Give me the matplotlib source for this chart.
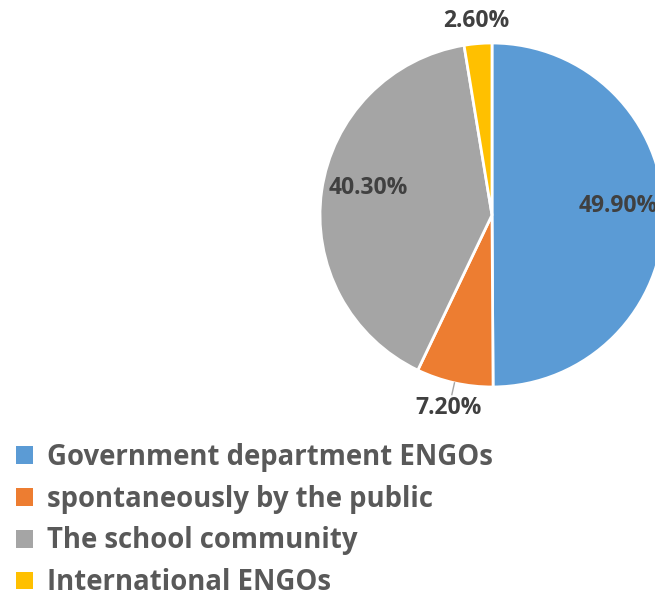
import numpy as np
import matplotlib
matplotlib.use('Agg')
import matplotlib.pyplot as plt

# data
labels = ['Government department ENGOs', 'spontaneously by the public',
          'The school community', 'International ENGOs']
shares = [49.9, 7.2, 40.3, 2.6]
colors = ['#5B9BD5', '#ED7D31', '#A5A5A5', '#FFC000']

plt.rcParams['font.family'] = ['Open Sans', 'DejaVu Sans']

W, H = 655, 595
fig = plt.figure(figsize=(W / 100, H / 100), dpi=100)
ax = fig.add_axes([0, 0, 1, 1])

cx, cy, r = 492, H - 215, 172
wedges, _ = ax.pie(shares, colors=colors, startangle=90, counterclock=False,
                   center=(cx, cy), radius=r,
                   wedgeprops=dict(edgecolor='white', linewidth=2))
ax.set_xlim(0, W)
ax.set_ylim(0, H)
ax.set_aspect('equal')
ax.axis('off')

# value labels
txt = dict(fontsize=16.5, fontweight='bold', color='#404040', ha='center', va='center')
for w, v in zip(wedges, shares):
    mid = np.deg2rad((w.theta1 + w.theta2) / 2)
    if v > 20:
        x = cx + 0.73 * r * np.cos(mid) + 1
        y = cy + 0.73 * r * np.sin(mid) + 9
        ax.text(x, y, '%.2f%%' % v, **txt)
    else:
        d = 1.13 if v < 5 else 1.15
        x = cx + d * r * np.cos(mid)
        y = cy + d * r * np.sin(mid)
        ax.text(x, y, '%.2f%%' % v, **txt)
        if v > 5:
            ax.plot([cx + 1.0 * r * np.cos(mid), cx + 1.07 * r * np.cos(mid)],
                    [cy + 1.0 * r * np.sin(mid), cy + 1.07 * r * np.sin(mid)],
                    color='#A5A5A5', lw=1)

leg = ax.legend(wedges, labels, loc='upper left', bbox_to_anchor=(2, H - 429),
                bbox_transform=ax.transData, frameon=False, borderpad=0,
                handlelength=0.62, handleheight=0.62, handletextpad=0.5,
                labelspacing=0.465, prop=dict(size=19.8, weight='bold'))
for t in leg.get_texts():
    t.set_color('#595959')
for h in leg.legend_handles:
    h.set_edgecolor('none')

fig.savefig('out.png', dpi=100)
